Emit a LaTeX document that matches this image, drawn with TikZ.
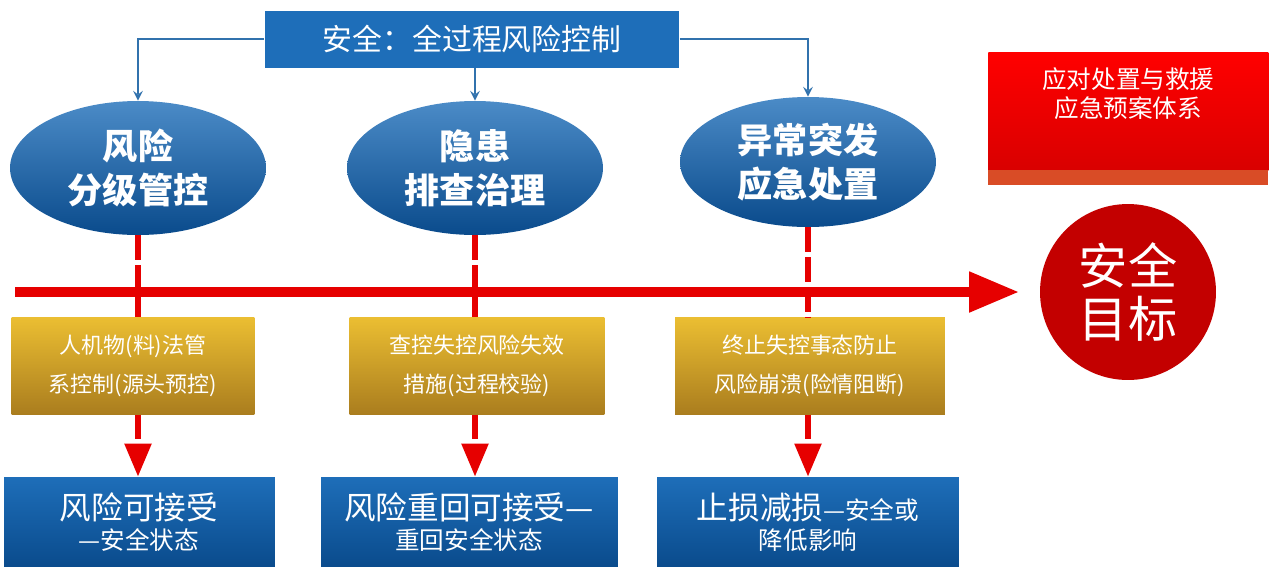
\documentclass[tikz,border=0pt]{standalone}
\usepackage{fontspec}
\setmainfont{Noto Sans CJK SC}
\usetikzlibrary{shapes,arrows,calc}
\definecolor{bBlue}{RGB}{30,110,185}
\definecolor{dBlue}{RGB}{10,75,140}
\definecolor{gold}{RGB}{235,190,50}
\definecolor{dGold}{RGB}{170,125,30}
\definecolor{sRed}{RGB}{230,0,0}
\tikzstyle{tsWhite} = [
    text=white,
    align=center,
    inner sep=1pt
]
\tikzstyle{tsEllipse} = [
    ellipse,
    tsWhite,
    top color=bBlue!80!white,
    bottom color=dBlue,
    minimum width=5.12cm,
    minimum height=2.68cm,
    font=\bfseries\fontsize{20}{25}\selectfont
]
\tikzstyle{tsGold} = [
    rectangle,
    tsWhite,
    top color=gold,
    bottom color=dGold,
    minimum height=1.94cm,
    font=\fontsize{12.5}{22}\selectfont
]
\tikzstyle{tsBlue} = [
    rectangle,
    tsWhite,
    draw=white,
    top color=bBlue,
    bottom color=dBlue,
    minimum height=1.82cm,
    font=\fontsize{18}{17}\selectfont
]
\tikzstyle{tsLink} = [
    -stealth, draw=bBlue!80!gray, line width=0.5mm
]
\tikzstyle{tsRedDash} = [
    sRed, line width=1.2mm, dash pattern=on 14pt off 3pt
]
\begin{document}
\begin{tikzpicture}[x=0.02cm, y=-0.02cm]
        \useasboundingbox (0,0) rectangle (1271,579);

        % Top box
        \node[  rectangle, tsWhite, fill=bBlue, draw=white,
                minimum width=8.3cm, minimum height=1.16cm,
                font=\fontsize{17}{20}\selectfont] (top) at (472,39) {安全：全过程风险控制};

        % Ellipses
        \node[tsEllipse] (e1) at (138,168) {风险\\分级管控};
        \node[tsEllipse] (e2) at (475,168) {隐患\\排查治理};
        \node[tsEllipse, minimum height=2.6cm] (e3) at (808,162) {异常突发\\应急处置};

        % Links from top box
        \draw[tsLink] (top.west) -| (e1.north);
        \draw[tsLink] (top.south -| e2.north) -- (e2.north);
        \draw[tsLink] (top.east) -| (e3.north);

        % Red box top right
        \node[  rectangle, tsWhite, anchor=north west,
                top color=red, bottom color=red!85!black,
                minimum width=5.6cm, minimum height=2.36cm,
                font=\fontsize{14}{17}\selectfont, text depth=0.75cm] (rb) at (988,52) {应对处置与救援\\应急预案体系};
        \fill[red!40!brown] (988,170) rectangle (1268,185);

        % Main axis
        \coordinate (ax0) at (15,292);
        \coordinate (ax1) at (1018,292);
        \draw[-triangle 45, sRed, line width=2mm] (ax0) -- (ax1);

        % Target
        \node[  circle, tsWhite, fill=sRed!85!black, minimum size=3.52cm,
                font=\fontsize{28}{30}\selectfont] (goal) at (1128,292) {安全\\目标};

        % Gold boxes
        \node[tsGold, minimum width=4.86cm] (g1) at (133,366) {人机物(料)法管\\系控制(源头预控)};
        \node[tsGold, minimum width=5.1cm] (g2) at (477,366) {查控失控风险失效\\措施(过程校验)};
        \node[tsGold, minimum width=5.4cm] (g3) at (810,366) {终止失控事态防止\\风险崩溃(险情阻断)};

        % Blue boxes
        \node[tsBlue, minimum width=5.44cm] (b1) at (139,522) {风险可接受\\{\fontsize{14}{16}\selectfont —安全状态}};
        \node[tsBlue, minimum width=5.96cm] (b2) at (469,522) {风险重回可接受—\\{\fontsize{14}{16}\selectfont 重回安全状态}};
        \node[tsBlue, minimum width=6.06cm] (b3) at (808,522) {止损减损{\fontsize{14}{16}\selectfont —安全或}\\{\fontsize{14}{16}\selectfont 降低影响}};

        % Red dashed links
        \foreach \e/\g/\b in {e1/g1/b1, e2/g2/b2, e3/g3/b3} {
            \draw[tsRedDash] (\e.south) -- (\e.south |- \g.north);
            \draw[tsRedDash, -triangle 45] (\e.south |- \g.south) -- (\e.south |- \b.north);
        }
\end{tikzpicture}
\end{document}
